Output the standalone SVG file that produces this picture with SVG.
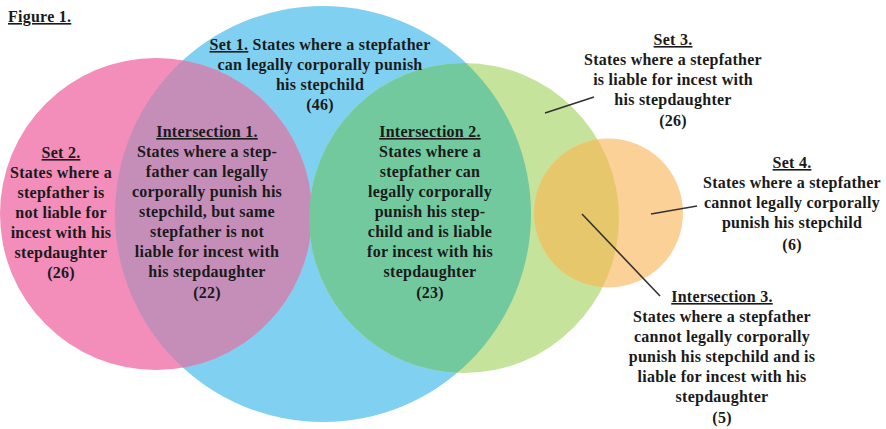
<svg xmlns="http://www.w3.org/2000/svg" width="886" height="429" viewBox="0 0 886 429">
<defs>
<style>
.t{font-family:"Liberation Serif","Times New Roman",serif;font-weight:bold;font-size:16px;letter-spacing:0.25px;fill:#1a1a1a;text-anchor:middle}
.u{text-decoration:underline}
.ln{stroke:#333;stroke-width:1.6;fill:none}
</style>
<clipPath id="cBlue"><circle cx="323" cy="214" r="208"/></clipPath>
<clipPath id="cGreen"><circle cx="464" cy="218" r="155"/></clipPath>
</defs>
<rect width="886" height="429" fill="#fff"/>
<g id="circles">
<circle cx="323" cy="214" r="208" fill="#80D0F1"/>
<circle cx="156" cy="214" r="156" fill="#F38DBA"/>
<circle cx="464" cy="218" r="155" fill="#C6E39C"/>
<circle cx="608.5" cy="213" r="74.5" fill="#FBD197"/>
<circle cx="156" cy="214" r="156" fill="#C48EB9" clip-path="url(#cBlue)"/>
<circle cx="464" cy="218" r="155" fill="#72C99E" clip-path="url(#cBlue)"/>
<circle cx="608.5" cy="213" r="74.5" fill="#E6C76B" clip-path="url(#cGreen)"/>
</g>
<g id="connectors">
<line class="ln" x1="545" y1="113" x2="594" y2="97"/>
<line class="ln" x1="651" y1="214" x2="697" y2="206"/>
<line class="ln" x1="582" y1="214" x2="660" y2="296"/>
</g>
<g id="title">
<text x="8" y="22" class="t u" style="text-anchor:start">Figure 1.</text>
</g>
<g id="set1">
<text class="t" x="320" y="50"><tspan class="u">Set 1.</tspan> States where a stepfather</text>
<text class="t" x="320" y="70">can legally corporally punish</text>
<text class="t" x="320" y="90">his stepchild</text>
<text class="t" x="320" y="110">(46)</text>
</g>
<g id="set2">
<text class="t u" x="61" y="158">Set 2.</text>
<text class="t" x="61" y="178">States where a</text>
<text class="t" x="61" y="198">stepfather is</text>
<text class="t" x="61" y="218">not liable for</text>
<text class="t" x="61" y="238">incest with his</text>
<text class="t" x="61" y="258">stepdaughter</text>
<text class="t" x="61" y="278">(26)</text>
</g>
<g id="int1">
<text class="t u" x="207" y="137">Intersection 1.</text>
<text class="t" x="207" y="157">States where a step-</text>
<text class="t" x="207" y="177">father can legally</text>
<text class="t" x="207" y="197">corporally punish his</text>
<text class="t" x="207" y="217">stepchild, but same</text>
<text class="t" x="207" y="237">stepfather is not</text>
<text class="t" x="207" y="257">liable for incest with</text>
<text class="t" x="207" y="277">his stepdaughter</text>
<text class="t" x="207" y="298">(22)</text>
</g>
<g id="int2">
<text class="t u" x="430" y="137">Intersection 2.</text>
<text class="t" x="430" y="157">States where a</text>
<text class="t" x="430" y="177">stepfather can</text>
<text class="t" x="430" y="197">legally corporally</text>
<text class="t" x="430" y="217">punish his step-</text>
<text class="t" x="430" y="237">child and is liable</text>
<text class="t" x="430" y="257">for incest with his</text>
<text class="t" x="430" y="277">stepdaughter</text>
<text class="t" x="430" y="298">(23)</text>
</g>
<g id="set3">
<text class="t u" x="673" y="45">Set 3.</text>
<text class="t" x="673" y="65">States where a stepfather</text>
<text class="t" x="673" y="85">is liable for incest with</text>
<text class="t" x="673" y="105">his stepdaughter</text>
<text class="t" x="673" y="126">(26)</text>
</g>
<g id="set4">
<text class="t u" x="792" y="168">Set 4.</text>
<text class="t" x="792" y="188">States where a stepfather</text>
<text class="t" x="792" y="208">cannot legally corporally</text>
<text class="t" x="792" y="228">punish his stepchild</text>
<text class="t" x="792" y="250">(6)</text>
</g>
<g id="int3">
<text class="t u" x="722" y="302">Intersection 3.</text>
<text class="t" x="722" y="322">States where a stepfather</text>
<text class="t" x="722" y="342">cannot legally corporally</text>
<text class="t" x="722" y="362">punish his stepchild and is</text>
<text class="t" x="722" y="382">liable for incest with his</text>
<text class="t" x="722" y="402">stepdaughter</text>
<text class="t" x="722" y="423">(5)</text>
</g>
</svg>
